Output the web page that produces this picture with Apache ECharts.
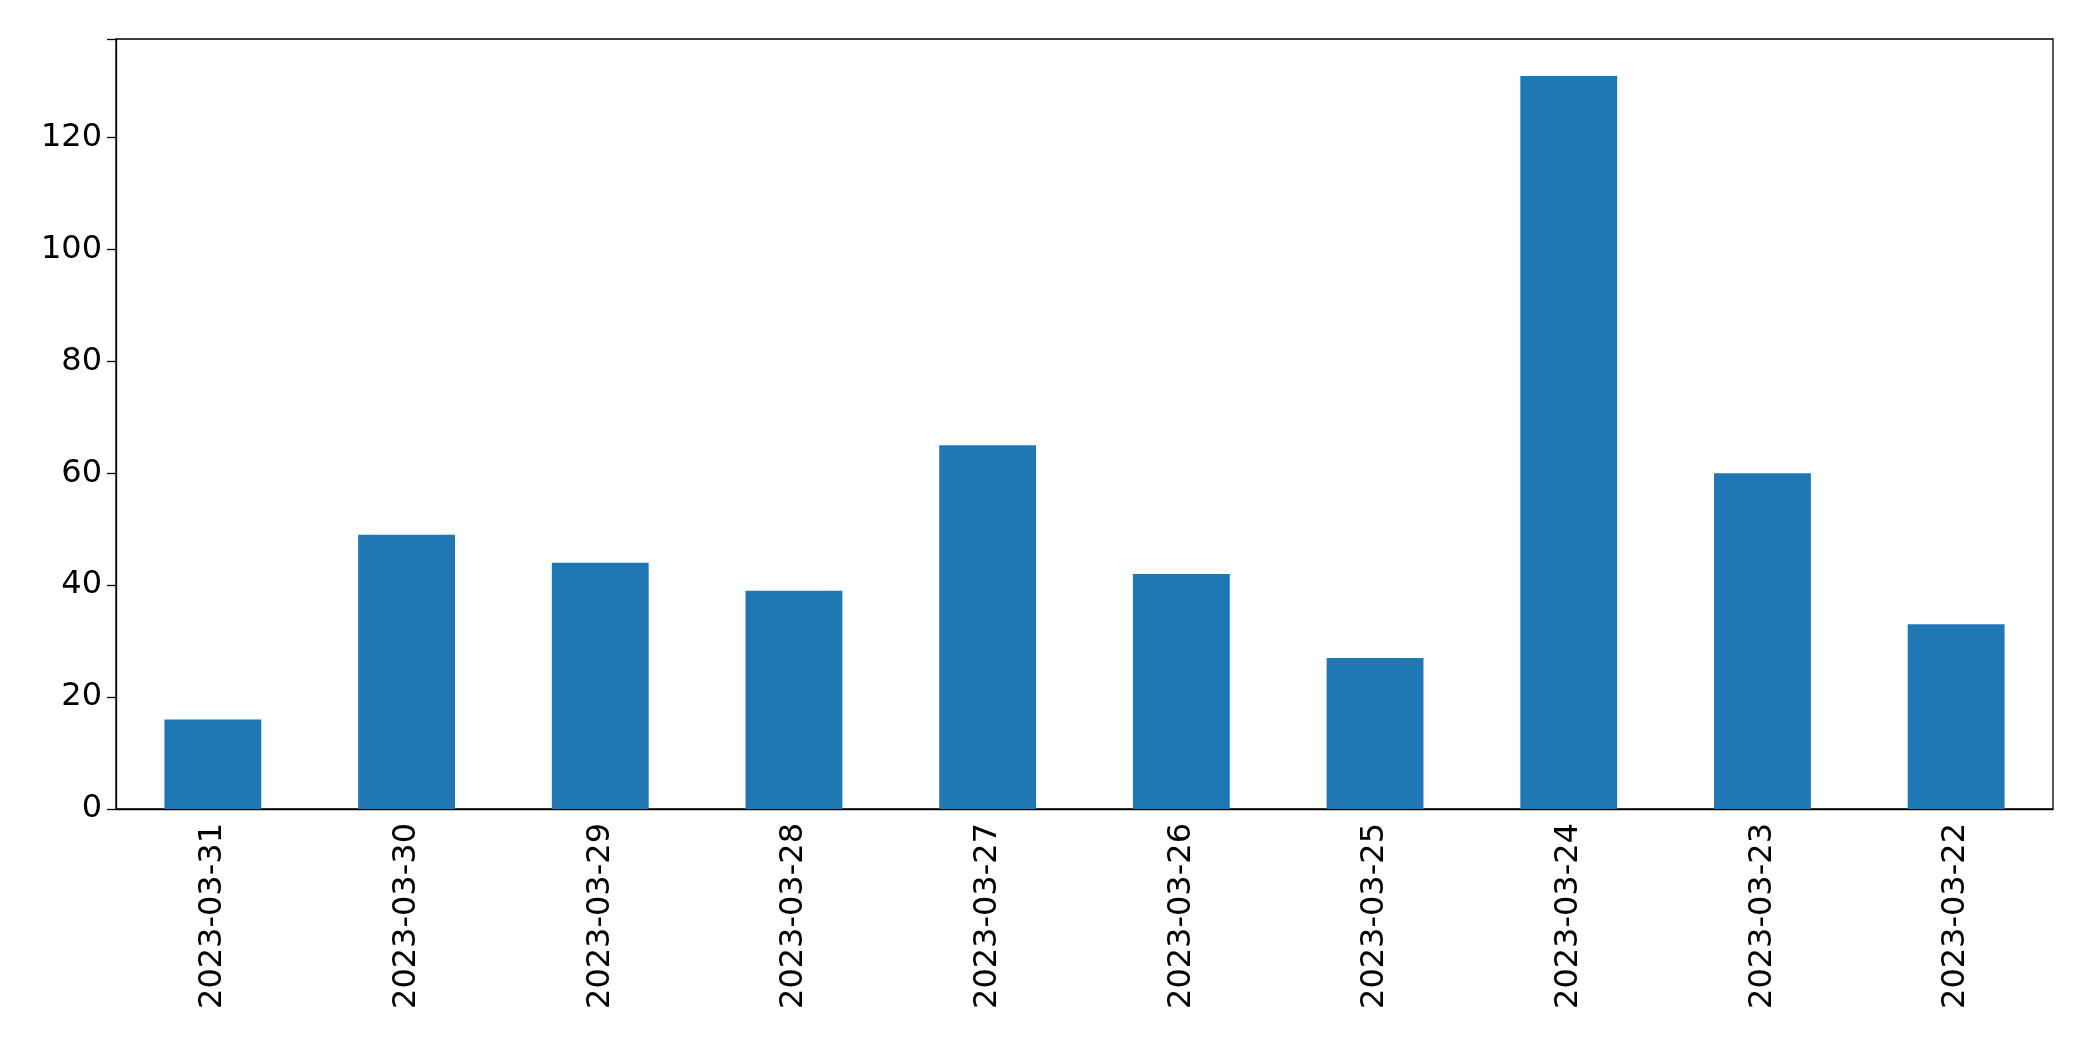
<!DOCTYPE html>
<html>
<head>
<meta charset="utf-8">
<script src="https://cdn.jsdelivr.net/npm/echarts@6/dist/echarts.min.js"></script>
<style>html,body{margin:0;padding:0;background:#fff}#chart{width:2093px;height:1061px}</style>
</head>
<body>
<div id="chart"></div>
<script>
const dates = ["2023-03-31", "2023-03-30", "2023-03-29", "2023-03-28", "2023-03-27",
  "2023-03-26", "2023-03-25", "2023-03-24", "2023-03-23", "2023-03-22"];
const counts = [16, 49, 44, 39, 65, 42, 27, 131, 60, 33];

const chart = echarts.init(document.getElementById("chart"));
const font = "DejaVu Sans";
chart.setOption({
  animation: false,
  grid: {
    left: 116, right: 40, top: 39, bottom: 252,
    show: true, borderColor: "#000", borderWidth: 1.3, containLabel: false,
  },
  xAxis: {
    type: "category",
    data: dates,
    axisLine: { lineStyle: { color: "#000", width: 1.3 } },
    axisTick: { alignWithLabel: true, length: 9, lineStyle: { color: "#000", width: 1.3 } },
    axisLabel: { rotate: 90, color: "#000", fontSize: 32, fontFamily: font, margin: 14 },
  },
  yAxis: {
    type: "value",
    min: 0, max: 137.6, interval: 20,
    splitLine: { show: false },
    axisLine: { show: true, lineStyle: { color: "#000", width: 1.3 } },
    axisTick: { show: true, length: 9, lineStyle: { color: "#000", width: 1.3 } },
    axisLabel: {
      color: "#000", fontSize: 32, fontFamily: font, margin: 14,
      formatter: (v) => (v % 20 === 0 ? v : ""),
    },
  },
  series: [{
    type: "bar",
    data: counts,
    barWidth: "50%",
    itemStyle: { color: "#1f77b4" },
  }],
});
</script>
</body>
</html>
